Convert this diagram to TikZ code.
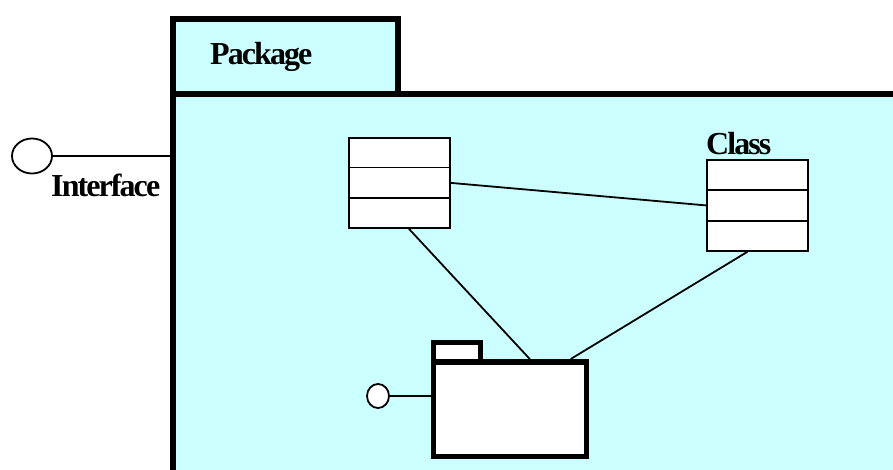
\documentclass[tikz,border=0pt]{standalone}
\usepackage{fontspec}
\usetikzlibrary{shapes.geometric,calc}
\newfontfamily\lblfont{Liberation Serif}[LetterSpace=-6]
\definecolor{pkgcyan}{RGB}{204,255,255}
\begin{document}
\begin{tikzpicture}[x=1pt,y=-1pt,
  thinline/.style={line width=1.8pt},
  pkgframe/.style={draw,line width=6pt,inner sep=0pt,anchor=north west},
  minipkg/.style={draw,line width=5.5pt,fill=white,inner sep=0pt,anchor=north west},
  classbox/.style={draw,line width=1.8pt,fill=white,inner sep=0pt,anchor=north west,minimum width=101pt},
  lbl/.style={font=\lblfont\bfseries\fontsize{32}{32}\selectfont,inner sep=0pt,anchor=base west},
  iface/.style={draw,line width=1.8pt,fill=white,ellipse,inner sep=0pt},
]
\useasboundingbox (0,0) rectangle (893,470);
\clip (0,0) rectangle (893,470);

% outer package: body and tab
\node[pkgframe,fill=pkgcyan,minimum width=800pt,minimum height=450pt] (body) at (170,91) {};
\node[pkgframe,fill=pkgcyan,minimum width=225pt,minimum height=75pt] (tab) at (170,16) {};
\node[lbl] (pkgname) at (210,65) {Package};

% provided interface of the outer package
\node[iface,minimum width=40pt,minimum height=35pt] (if1) at (32,156) {};
\draw[thinline] (if1.east) -- (if1.east -| body.west);
\node[lbl] (ifname) at (51,197) {Interface};

% classes
\node[classbox,minimum height=90pt] (c1) at (348,137) {};
\draw[thinline] ($(c1.north west)!1/3!(c1.south west)$) -- ($(c1.north east)!1/3!(c1.south east)$);
\draw[thinline] ($(c1.north west)!2/3!(c1.south west)$) -- ($(c1.north east)!2/3!(c1.south east)$);

\node[classbox,minimum height=91pt] (c2) at (706,159) {};
\draw[thinline] ($(c2.north west)!1/3!(c2.south west)$) -- ($(c2.north east)!1/3!(c2.south east)$);
\draw[thinline] ($(c2.north west)!2/3!(c2.south west)$) -- ($(c2.north east)!2/3!(c2.south east)$);
\node[lbl] (clsname) at (706,155) {Class};

% nested package
\node[minipkg,minimum width=47pt,minimum height=20pt] (sptab) at (430.5,339.5) {};
\node[minipkg,minimum width=153pt,minimum height=94.5pt] (sp) at (430.5,359) {};

% associations
\draw[thinline] (c1.east) -- (c2.west);
\draw[thinline] ([xshift=9.5pt]c1.south) -- ([xshift=20pt]sp.north);
\draw[thinline] ([xshift=-10pt]c2.south) -- ([xshift=61pt]sp.north);

% interface of the nested package
\node[iface,minimum width=22pt,minimum height=24pt] (if2) at (378,396) {};
\draw[thinline] (if2.east) -- (if2.east -| sp.west);
\end{tikzpicture}
\end{document}
